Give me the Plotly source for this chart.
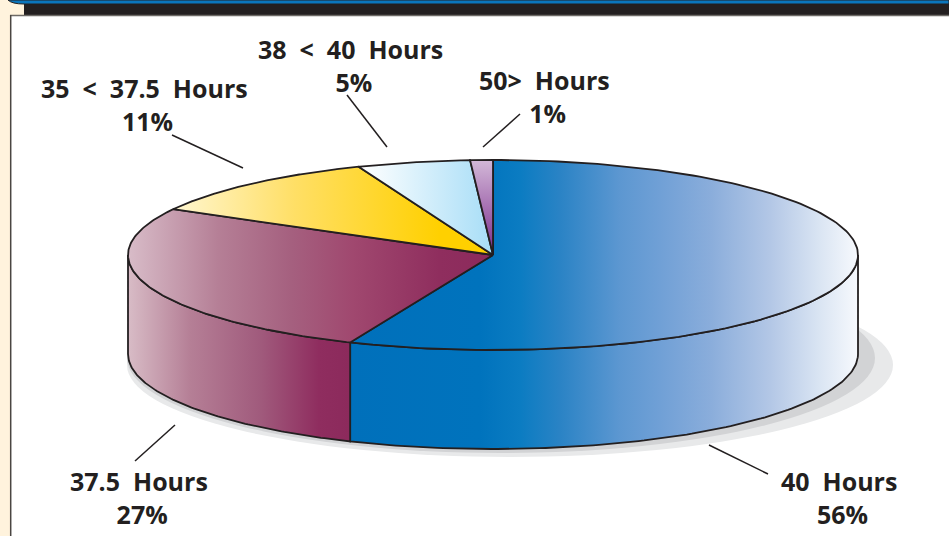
import numpy as np
import plotly.graph_objects as go

# ---- data (chart values) ----
categories = ["40 Hours", "37.5 Hours", "35 < 37.5 Hours", "38 < 40 Hours", "50> Hours"]
shares = [56.4, 26.6, 11.0, 5.0, 1.0]
label_x = [839, 139, 144, 350, 544]
label_y = [497, 497, 104, 65.5, 96.5]

# ---- styling ----
INK = "#231f20"
CX, CY, RX, RY, DEPTH = 493, 255, 365, 95, 99
blue_scale = [[0, "#0070bb"], [0.256, "#0073bd"], [0.335, "#0b7cc2"], [0.413, "#2a83c5"], [0.53, "#5c97d1"],
              [0.61, "#70a0d6"], [0.71, "#8aaddb"], [0.827, "#b3c7e6"], [0.925, "#dae5f3"], [1, "#f7f9fd"]]
top_grad = [
    dict(type="horizontal", start=350, stop=858, colorscale=blue_scale),
    dict(type="horizontal", start=128, stop=490, colorscale=[[0, "#d8bcc8"], [0.25, "#b57f96"], [0.45, "#a5607f"], [0.62, "#a0486f"], [0.86, "#8f2e5e"], [1, "#8c2a5c"]]),
    dict(type="horizontal", start=175, stop=440, colorscale=[[0, "#fff6cf"], [0.45, "#ffdf66"], [1, "#ffd000"]]),
    dict(type="horizontal", start=362, stop=490, colorscale=[[0, "#ffffff"], [1, "#a9def7"]]),
    dict(type="vertical", start=160, stop=255, colorscale=[[0, "#d3b8d8"], [1, "#7a2a8c"]]),
]
side_grad = [
    dict(type="horizontal", start=350, stop=858, colorscale=blue_scale),
    dict(type="horizontal", start=128, stop=350, colorscale=[[0, "#d8bcc6"], [0.28, "#b57f96"], [0.6, "#a05a7c"], [0.86, "#8f2d5f"], [1, "#8c2a5c"]]),
]


def rim(theta):
    return CX + RX * np.sin(theta), CY - RY * np.cos(theta)


fig = go.Figure()
edges = np.radians(np.concatenate([[0], np.cumsum(shares)]) * 3.6)

# side walls: visible front half of the disc only
for i in range(2):
    a, b = max(edges[i], np.pi / 2), min(edges[i + 1], 3 * np.pi / 2)
    t = np.linspace(a, b, 120)
    x, y = rim(t)
    fig.add_trace(go.Scatter(
        x=np.concatenate([x, x[::-1], x[:1]]),
        y=np.concatenate([y, y[::-1] + DEPTH, y[:1]]),
        mode="lines", fill="toself", fillgradient=side_grad[i],
        line=dict(color=INK, width=1.8), name=categories[i], hoverinfo="name",
    ))

# top faces
for i in range(len(shares)):
    t = np.linspace(edges[i], edges[i + 1], 160)
    x, y = rim(t)
    fig.add_trace(go.Scatter(
        x=np.concatenate([[CX], x, [CX]]),
        y=np.concatenate([[CY], y, [CY]]),
        mode="lines", fill="toself", fillgradient=top_grad[i],
        line=dict(color=INK, width=1.8), name=categories[i], hoverinfo="name",
    ))

shapes = [
    # page chrome
    dict(type="rect", x0=0, x1=10, y0=0, y1=536, fillcolor="#fff3dd", line_width=0, layer="below"),
    dict(type="rect", x0=0, x1=24, y0=0, y1=15, fillcolor="#fff3dd", line_width=0, layer="below"),
    dict(type="rect", x0=24, x1=949, y0=3, y1=15, fillcolor=INK, line_width=0, layer="below"),
    dict(type="path", path="M 8 0 Q 12 4 24 4 L 949 4 L 949 0 Z", fillcolor="#0a76bd", line=dict(color=INK, width=1), layer="below"),
    dict(type="line", x0=10, x1=949, y0=15.5, y1=15.5, line=dict(color="#6d6a66", width=1.5), layer="below"),
    dict(type="line", x0=10.7, x1=10.7, y0=15, y1=536, line=dict(color="#4a4642", width=1.5), layer="below"),
    # drop shadow
    dict(type="circle", x0=127, x1=893, y0=273, y1=457, fillcolor="#e8e9ea", line_width=0, layer="below"),
    dict(type="circle", x0=127, x1=875, y0=263, y1=453, fillcolor="#d2d3d5", line_width=0, layer="below"),
]
# leader lines
leaders = [(709, 445, 768, 474), (135, 461, 175, 425), (172, 135, 243, 168), (347, 95, 387, 147), (483, 147, 520, 114)]
for x0, y0, x1, y1 in leaders:
    shapes.append(dict(type="line", x0=x0, y0=y0, x1=x1, y1=y1, line=dict(color=INK, width=1.5)))

LABEL_FONT = dict(family="Open Sans", size=25, color=INK, weight=700)
NB = chr(160)
annotations = []
for name, share, lx, ly in zip(categories, shares, label_x, label_y):
    annotations.append(dict(x=lx, y=ly, xref="x", yref="y", showarrow=False, align="center",
                            text=f"{name.replace(' ', NB * 2)}<br>{NB}{round(share)}%", font=LABEL_FONT))

fig.update_layout(
    width=949, height=536, margin=dict(l=0, r=0, t=0, b=0),
    paper_bgcolor="white", plot_bgcolor="white", showlegend=False,
    xaxis=dict(range=[0, 949], visible=False, fixedrange=True),
    yaxis=dict(range=[536, 0], visible=False, fixedrange=True),
    shapes=shapes, annotations=annotations,
)
fig.write_html("out.html", post_script="document.body.style.margin='0';document.body.style.overflow='hidden';",
               config={"displayModeBar": False})
